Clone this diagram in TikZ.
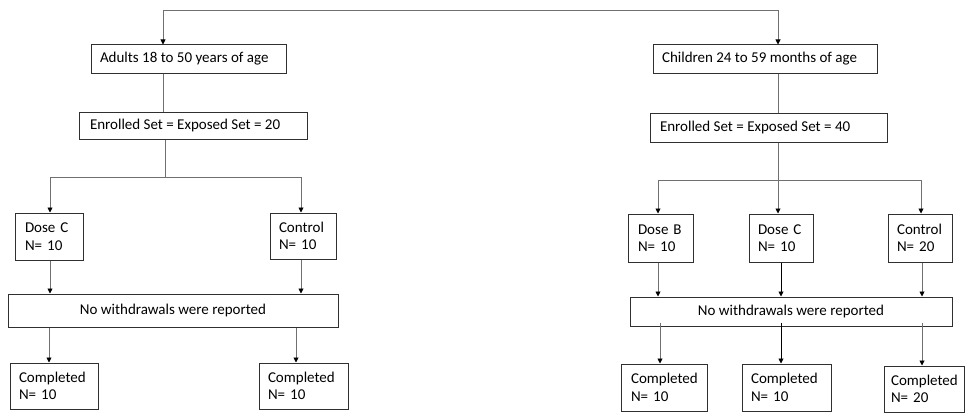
\documentclass[tikz,border=0pt]{standalone}
\usepackage{fontspec}
\setmainfont{Carlito}
\usetikzlibrary{arrows.meta}
\definecolor{boxline}{HTML}{303030}
\definecolor{conn}{HTML}{707070}
\newcommand{\lline}[2]{\makebox[#1][l]{#2}}
\tikzset{
  box/.style={draw=boxline, line width=1pt, inner sep=0pt, font=\fontsize{15}{17.5}\selectfont},
  wbox/.style={box, align=center},
  lbox/.style 2 args={box, align=left, text width=#1, inner xsep=#2},
  tbox/.style={box, inner xsep=#1},
  link/.style={draw=conn, line width=0.9pt},
  arr/.style={link, -{Triangle[width=5pt,length=5pt,color=black]}},
}
\begin{document}
\begin{tikzpicture}[x=1pt,y=-1pt]
\useasboundingbox (0,0) rectangle (965,412);
% top level
\node[tbox=9pt, minimum height=28pt] (adults) at (188.5,59) {\lline{177pt}{Adults 18 to 50 years of age}};
\node[tbox=9pt, minimum height=28pt] (children) at (765,59) {\lline{206pt}{Children 24 to 59 months of age}};
\node[tbox=11pt, minimum height=27pt] (enrolA) at (193,125.5) {\lline{206pt}{Enrolled Set = Exposed Set = 20}};
\node[tbox=10pt, minimum height=29pt] (enrolB) at (768.5,127.5) {\lline{217pt}{Enrolled Set = Exposed Set = 40}};
% groups, adults
\node[lbox={48pt}{10pt}, minimum height=47pt] (doseCA) at (49,236.5) {Dose~C\\N=~10};
\node[lbox={48pt}{9pt}, minimum height=46pt] (controlA) at (303,236) {Control\\N=~10};
\node[wbox, minimum width=330pt, minimum height=33pt] (noWA) at (173,310.5) {No withdrawals were reported};
\node[lbox={70pt}{9pt}, minimum height=46pt] (compA1) at (54,386) {Completed\\N=~10};
\node[lbox={71pt}{9pt}, minimum height=46pt] (compA2) at (303.5,386) {Completed\\N=~10};
% groups, children
\node[lbox={45pt}{10pt}, minimum height=48pt] (doseB) at (660.5,238) {Dose~B\\N=~10};
\node[lbox={46pt}{9pt}, minimum height=48pt] (doseCB) at (781,238) {Dose~C\\N=~10};
\node[lbox={46pt}{9pt}, minimum height=48pt] (controlB) at (920,238) {Control\\N=~20};
\node[wbox, minimum width=322pt, minimum height=29pt] (noWB) at (791,311.5) {No withdrawals were reported};
\node[lbox={66pt}{10pt}, minimum height=47pt] (compB1) at (664,387.5) {Completed\\N=~10};
\node[lbox={71pt}{9pt}, minimum height=47pt] (compB2) at (786.5,387.5) {Completed\\N=~10};
\node[lbox={66pt}{7pt}, minimum height=46pt] (compB3) at (924,389) {Completed\\N=~20};
% coordinates
\coordinate (topL) at (163,10);
\coordinate (topR) at (778,10);
\coordinate (brA) at (165,177);
\coordinate (brAL) at (50,177);
\coordinate (brAR) at (301,177);
\coordinate (brB) at (778,180);
\coordinate (brBL) at (658,180);
\coordinate (brBR) at (921,180);
% top connectors
\draw[link] (topL) -- (topR);
\draw[arr] (topL) -- (topL |- adults.north);
\draw[arr] (topR) -- (topR |- children.north);
\draw[link] (topL |- adults.south) -- (topL |- enrolA.north);
\draw[link] (topR |- children.south) -- (topR |- enrolB.north);
% adults branch
\draw[link] (brA |- enrolA.south) -- (brA);
\draw[link] (brAL) -- (brAR);
\draw[arr] (brAL) -- (brAL |- doseCA.north);
\draw[arr] (brAR) -- (brAR |- controlA.north);
\draw[arr] (brAL |- doseCA.south) -- (brAL |- noWA.north);
\draw[arr] (brAR |- controlA.south) -- (brAR |- noWA.north);
\draw[arr] ([xshift=-1pt]brAL |- noWA.south) -- ([xshift=-1pt]brAL |- compA1.north);
\draw[arr] ([xshift=-5pt]brAR |- noWA.south) -- ([xshift=-5pt]brAR |- compA2.north);
% children branch
\draw[link] (brB |- enrolB.south) -- (brB);
\draw[link] (brBL) -- (brBR);
\draw[arr] (brBL) -- (brBL |- doseB.north);
\draw[arr] (brB) -- (brB |- doseCB.north);
\draw[arr] (brBR) -- (brBR |- controlB.north);
\draw[arr] (brBL |- doseB.south) -- (brBL |- noWB.north);
\draw[arr, draw=black] ([xshift=3pt]brB |- doseCB.south) -- ([xshift=3pt]brB |- noWB.north);
\draw[arr] ([xshift=1pt]brBR |- controlB.south) -- ([xshift=1pt]brBR |- noWB.north);
\draw[arr] ([shift={(2pt,4pt)}]brBL |- noWB.south) -- ([xshift=2pt]brBL |- compB1.north);
\draw[arr, draw=black] ([shift={(3pt,4pt)}]brB |- noWB.south) -- ([xshift=3pt]brB |- compB2.north);
\draw[arr] ([shift={(1pt,4pt)}]brBR |- noWB.south) -- ([xshift=1pt]brBR |- compB3.north);
\end{tikzpicture}
\end{document}
